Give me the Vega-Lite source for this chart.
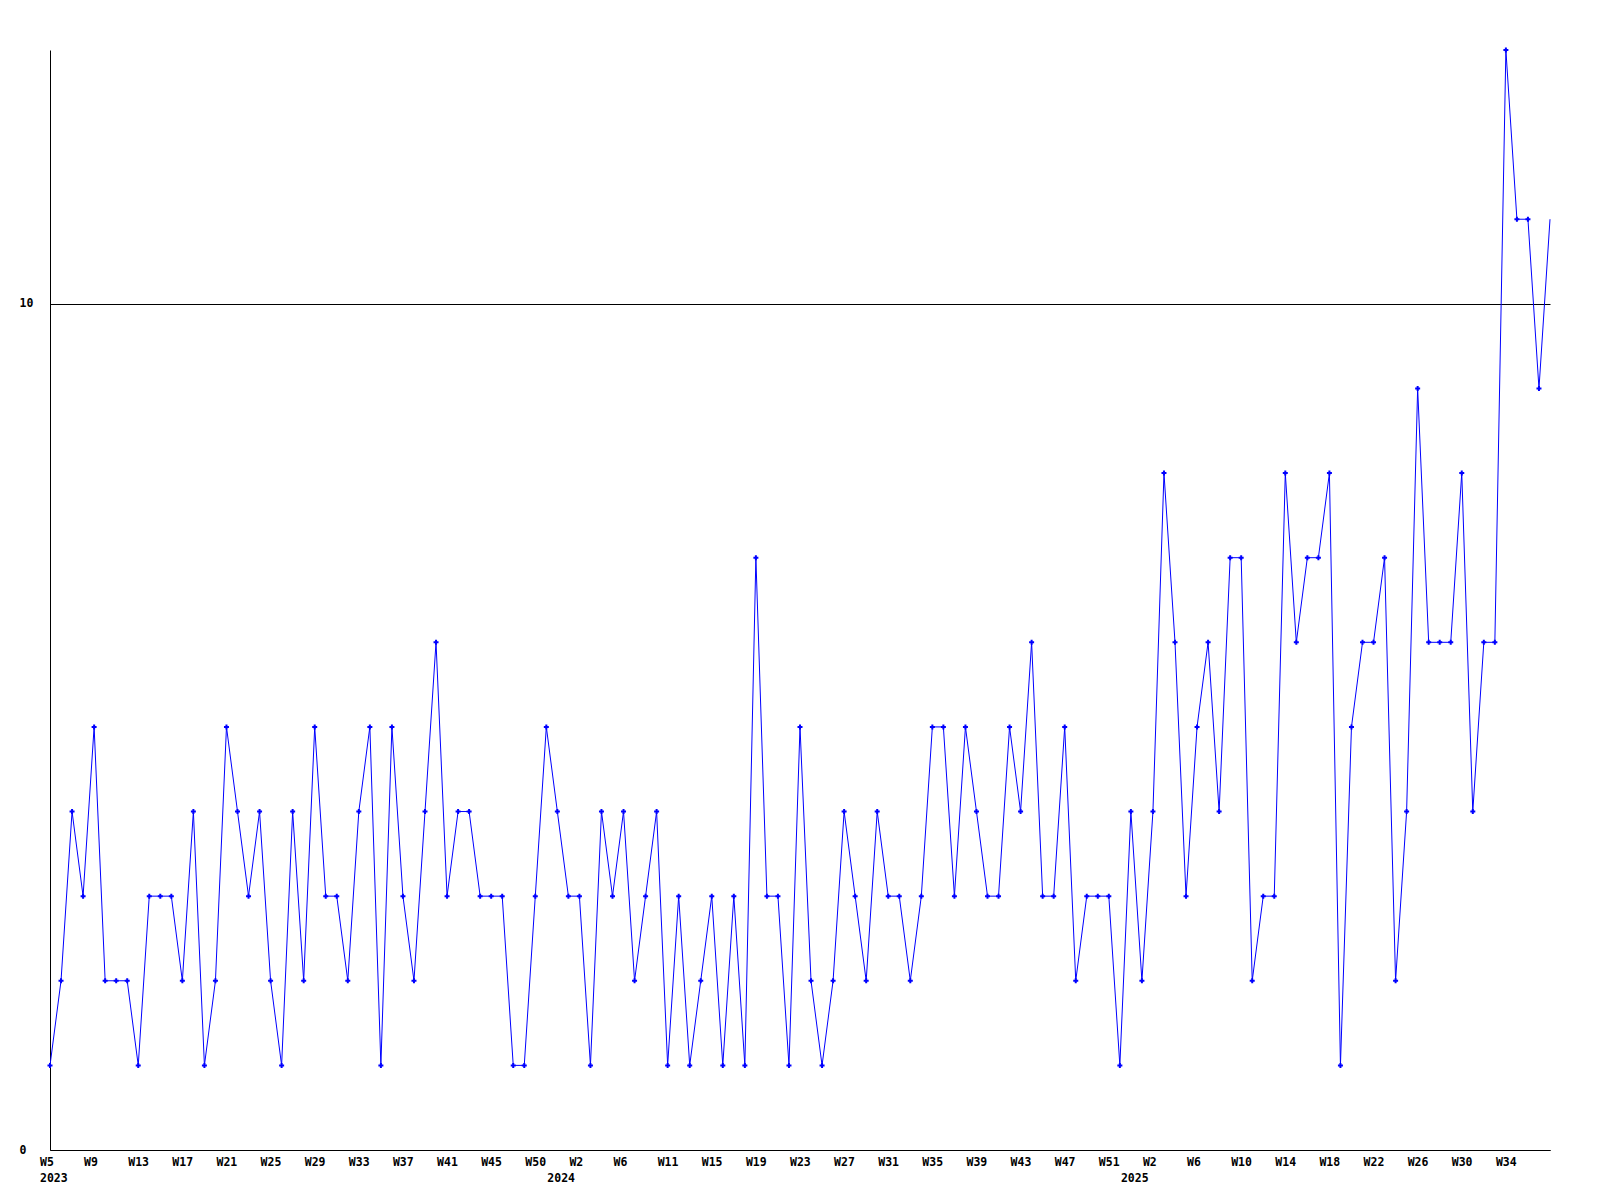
{
  "$schema": "https://vega.github.io/schema/vega-lite/v6.json",
  "width": 1500,
  "height": 1100,
  "autosize": {"type": "none"},
  "padding": {"left": 50, "top": 50, "right": 50, "bottom": 50},
  "background": "white",
  "config": {"view": {"stroke": null}},
  "data": {"values": [
    {"week":0,"count":1},{"week":1,"count":2},{"week":2,"count":4},{"week":3,"count":3},{"week":4,"count":5},{"week":5,"count":2},{"week":6,"count":2},{"week":7,"count":2},{"week":8,"count":1},{"week":9,"count":3},
    {"week":10,"count":3},{"week":11,"count":3},{"week":12,"count":2},{"week":13,"count":4},{"week":14,"count":1},{"week":15,"count":2},{"week":16,"count":5},{"week":17,"count":4},{"week":18,"count":3},{"week":19,"count":4},
    {"week":20,"count":2},{"week":21,"count":1},{"week":22,"count":4},{"week":23,"count":2},{"week":24,"count":5},{"week":25,"count":3},{"week":26,"count":3},{"week":27,"count":2},{"week":28,"count":4},{"week":29,"count":5},
    {"week":30,"count":1},{"week":31,"count":5},{"week":32,"count":3},{"week":33,"count":2},{"week":34,"count":4},{"week":35,"count":6},{"week":36,"count":3},{"week":37,"count":4},{"week":38,"count":4},{"week":39,"count":3},
    {"week":40,"count":3},{"week":41,"count":3},{"week":42,"count":1},{"week":43,"count":1},{"week":44,"count":3},{"week":45,"count":5},{"week":46,"count":4},{"week":47,"count":3},{"week":48,"count":3},{"week":49,"count":1},
    {"week":50,"count":4},{"week":51,"count":3},{"week":52,"count":4},{"week":53,"count":2},{"week":54,"count":3},{"week":55,"count":4},{"week":56,"count":1},{"week":57,"count":3},{"week":58,"count":1},{"week":59,"count":2},
    {"week":60,"count":3},{"week":61,"count":1},{"week":62,"count":3},{"week":63,"count":1},{"week":64,"count":7},{"week":65,"count":3},{"week":66,"count":3},{"week":67,"count":1},{"week":68,"count":5},{"week":69,"count":2},
    {"week":70,"count":1},{"week":71,"count":2},{"week":72,"count":4},{"week":73,"count":3},{"week":74,"count":2},{"week":75,"count":4},{"week":76,"count":3},{"week":77,"count":3},{"week":78,"count":2},{"week":79,"count":3},
    {"week":80,"count":5},{"week":81,"count":5},{"week":82,"count":3},{"week":83,"count":5},{"week":84,"count":4},{"week":85,"count":3},{"week":86,"count":3},{"week":87,"count":5},{"week":88,"count":4},{"week":89,"count":6},
    {"week":90,"count":3},{"week":91,"count":3},{"week":92,"count":5},{"week":93,"count":2},{"week":94,"count":3},{"week":95,"count":3},{"week":96,"count":3},{"week":97,"count":1},{"week":98,"count":4},{"week":99,"count":2},
    {"week":100,"count":4},{"week":101,"count":8},{"week":102,"count":6},{"week":103,"count":3},{"week":104,"count":5},{"week":105,"count":6},{"week":106,"count":4},{"week":107,"count":7},{"week":108,"count":7},{"week":109,"count":2},
    {"week":110,"count":3},{"week":111,"count":3},{"week":112,"count":8},{"week":113,"count":6},{"week":114,"count":7},{"week":115,"count":7},{"week":116,"count":8},{"week":117,"count":1},{"week":118,"count":5},{"week":119,"count":6},
    {"week":120,"count":6},{"week":121,"count":7},{"week":122,"count":2},{"week":123,"count":4},{"week":124,"count":9},{"week":125,"count":6},{"week":126,"count":6},{"week":127,"count":6},{"week":128,"count":8},{"week":129,"count":4},
    {"week":130,"count":6},{"week":131,"count":6},{"week":132,"count":13},{"week":133,"count":11},{"week":134,"count":11},{"week":135,"count":9},{"week":136,"count":11}
  ]},
  "encoding": {
    "x": {
      "field": "week",
      "type": "quantitative",
      "scale": {"domain": [0, 136], "nice": false, "zero": false},
      "axis": {
        "title": null,
        "values": [0,4,8,12,16,20,24,28,32,36,40,44,46,48,52,56,60,64,68,72,76,80,84,88,92,96,98,100,104,108,112,116,120,124,128,132],
        "labelExpr": "{'0':['W5','2023'],'4':'W9','8':'W13','12':'W17','16':'W21','20':'W25','24':'W29','28':'W33','32':'W37','36':'W41','40':'W45','44':'W50','46':['','2024'],'48':'W2','52':'W6','56':'W11','60':'W15','64':'W19','68':'W23','72':'W27','76':'W31','80':'W35','84':'W39','88':'W43','92':'W47','96':'W51','98':['','2025'],'100':'W2','104':'W6','108':'W10','112':'W14','116':'W18','120':'W22','124':'W26','128':'W30','132':'W34'}['' + datum.value]",
        "grid": false,
        "ticks": false,
        "tickSize": 0,
        "domainColor": "#000000",
        "domainWidth": 1,
        "labelAlign": "left",
        "labelBaseline": "top",
        "labelOffset": -10.5,
        "labelPadding": 6,
        "labelLineHeight": 16,
        "labelOverlap": false,
        "labelFlush": false,
        "labelBound": false,
        "labelFont": "DejaVu Sans Mono",
        "labelFontWeight": "bold",
        "labelFontSize": 11.5,
        "labelColor": "#000000"
      }
    },
    "y": {
      "field": "count",
      "type": "quantitative",
      "scale": {"domain": [0, 13], "nice": false, "zero": true},
      "axis": {
        "title": null,
        "values": [0, 10],
        "grid": true,
        "gridColor": "#000000",
        "gridOpacity": 1,
        "gridWidth": 1,
        "ticks": false,
        "tickSize": 0,
        "domainColor": "#000000",
        "domainWidth": 1,
        "labelAlign": "left",
        "labelPadding": 31,
        "labelFont": "DejaVu Sans Mono",
        "labelFontWeight": "bold",
        "labelFontSize": 11.5,
        "labelColor": "#000000"
      }
    }
  },
  "layer": [
    {"mark": {"type": "line", "color": "#0000ff", "strokeWidth": 1}},
    {
      "transform": [{"filter": "datum.week < 136"}],
      "mark": {"type": "point", "shape": "cross", "size": 25, "filled": true, "color": "#0000ff", "opacity": 1}
    }
  ]
}
